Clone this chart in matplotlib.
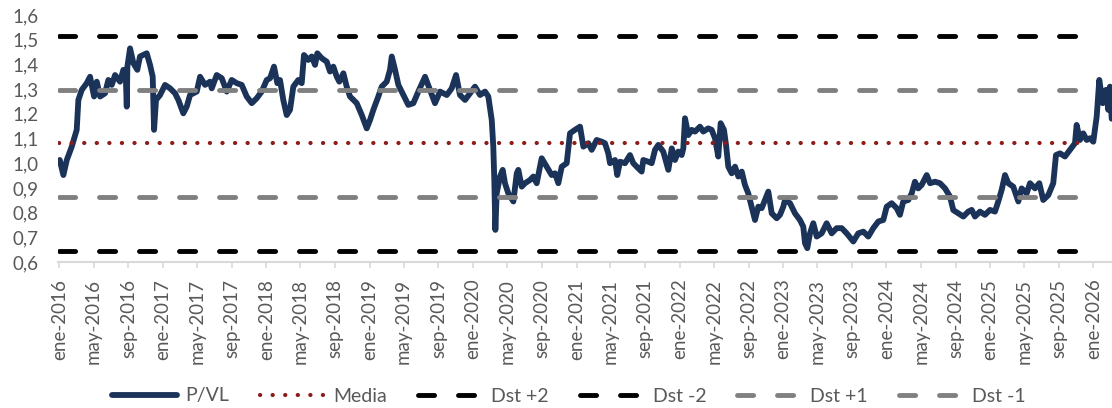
import matplotlib
matplotlib.use("Agg")
import matplotlib.pyplot as plt
import pandas as pd

# ---------------- data ----------------
# time as decimal years, P/VL ratio
pvl_years = [
    2016.004, 2016.039, 2016.072, 2016.120, 2016.168, 2016.184, 2016.217, 2016.265, 2016.297, 2016.336,
    2016.362, 2016.394, 2016.442, 2016.474, 2016.507, 2016.539, 2016.587, 2016.619, 2016.642, 2016.652,
    2016.658, 2016.684, 2016.716, 2016.754, 2016.780, 2016.845, 2016.877, 2016.903, 2016.916, 2016.935,
    2016.974, 2017.022, 2017.071, 2017.119, 2017.151, 2017.199, 2017.232, 2017.264, 2017.329, 2017.361,
    2017.409, 2017.457, 2017.474, 2017.522, 2017.571, 2017.619, 2017.667, 2017.716, 2017.764, 2017.812,
    2017.861, 2017.909, 2017.957, 2018.006, 2018.038, 2018.076, 2018.108, 2018.134, 2018.166, 2018.199,
    2018.231, 2018.263, 2018.311, 2018.344, 2018.366, 2018.408, 2018.441, 2018.473, 2018.495, 2018.538,
    2018.586, 2018.618, 2018.650, 2018.683, 2018.708, 2018.747, 2018.779, 2018.811, 2018.876, 2018.925,
    2018.973, 2019.005, 2019.037, 2019.085, 2019.118, 2019.166, 2019.198, 2019.215, 2019.247, 2019.279,
    2019.327, 2019.375, 2019.424, 2019.472, 2019.537, 2019.585, 2019.633, 2019.682, 2019.747, 2019.795,
    2019.837, 2019.875, 2019.924, 2019.972, 2020.020, 2020.069, 2020.117, 2020.149, 2020.182, 2020.197,
    2020.207, 2020.217, 2020.230, 2020.262, 2020.288, 2020.310, 2020.342, 2020.391, 2020.424, 2020.439,
    2020.472, 2020.504, 2020.552, 2020.584, 2020.617, 2020.665, 2020.714, 2020.762, 2020.794, 2020.826,
    2020.859, 2020.907, 2020.939, 2020.987, 2021.036, 2021.068, 2021.116, 2021.149, 2021.197, 2021.246,
    2021.277, 2021.309, 2021.326, 2021.374, 2021.396, 2021.423, 2021.471, 2021.519, 2021.551, 2021.600,
    2021.632, 2021.648, 2021.696, 2021.729, 2021.761, 2021.793, 2021.841, 2021.890, 2021.923, 2021.954,
    2021.986, 2022.019, 2022.035, 2022.051, 2022.083, 2022.116, 2022.148, 2022.196, 2022.228, 2022.276,
    2022.309, 2022.341, 2022.373, 2022.396, 2022.428, 2022.448, 2022.470, 2022.503, 2022.535, 2022.567,
    2022.600, 2022.631, 2022.663, 2022.696, 2022.728, 2022.760, 2022.793, 2022.825, 2022.857, 2022.890,
    2022.938, 2022.970, 2023.002, 2023.018, 2023.067, 2023.115, 2023.163, 2023.195, 2023.212, 2023.234,
    2023.260, 2023.292, 2023.325, 2023.373, 2023.421, 2023.470, 2023.518, 2023.567, 2023.615, 2023.679,
    2023.727, 2023.776, 2023.824, 2023.872, 2023.921, 2023.969, 2024.002, 2024.050, 2024.098, 2024.130,
    2024.162, 2024.211, 2024.244, 2024.275, 2024.307, 2024.340, 2024.389, 2024.421, 2024.469, 2024.517,
    2024.566, 2024.614, 2024.646, 2024.694, 2024.743, 2024.791, 2024.824, 2024.856, 2024.904, 2024.952,
    2025.001, 2025.049, 2025.081, 2025.114, 2025.146, 2025.178, 2025.226, 2025.275, 2025.307, 2025.356,
    2025.388, 2025.436, 2025.478, 2025.516, 2025.565, 2025.613, 2025.639, 2025.678, 2025.726, 2025.774,
    2025.823, 2025.839, 2025.871, 2025.903, 2025.936, 2025.968, 2026.000, 2026.033, 2026.058, 2026.091,
    2026.123, 2026.145, 2026.161, 2026.178,
]
pvl_values = [
    1.013, 0.952, 1.013, 1.067, 1.135, 1.256, 1.297, 1.324, 1.350, 1.270,
    1.330, 1.270, 1.283, 1.337, 1.317, 1.357, 1.330, 1.378, 1.360, 1.229,
    1.391, 1.465, 1.405, 1.378, 1.432, 1.445, 1.398, 1.350, 1.135, 1.256,
    1.276, 1.317, 1.303, 1.283, 1.256, 1.202, 1.229, 1.276, 1.290, 1.350,
    1.317, 1.330, 1.303, 1.357, 1.344, 1.290, 1.337, 1.324, 1.317, 1.270,
    1.243, 1.263, 1.290, 1.337, 1.344, 1.391, 1.324, 1.337, 1.256, 1.195,
    1.216, 1.310, 1.337, 1.324, 1.438, 1.418, 1.432, 1.398, 1.445, 1.425,
    1.411, 1.371, 1.391, 1.350, 1.330, 1.364, 1.310, 1.270, 1.243, 1.195,
    1.141, 1.175, 1.216, 1.270, 1.310, 1.330, 1.378, 1.432, 1.378, 1.317,
    1.276, 1.236, 1.243, 1.290, 1.350, 1.297, 1.243, 1.290, 1.276, 1.303,
    1.357, 1.276, 1.256, 1.283, 1.310, 1.276, 1.290, 1.270, 1.175, 1.067,
    0.932, 0.730, 0.878, 0.946, 0.973, 0.919, 0.878, 0.845, 0.959, 0.973,
    0.905, 0.919, 0.932, 0.946, 0.919, 1.020, 0.986, 0.952, 0.959, 0.919,
    0.986, 1.000, 1.121, 1.135, 1.148, 1.067, 1.081, 1.054, 1.094, 1.087,
    1.081, 1.040, 1.000, 1.013, 0.952, 1.006, 1.000, 1.033, 1.000, 0.979,
    0.966, 1.013, 1.006, 1.000, 1.054, 1.074, 1.047, 0.973, 1.060, 1.013,
    1.047, 1.033, 1.060, 1.182, 1.114, 1.135, 1.128, 1.148, 1.128, 1.141,
    1.135, 1.101, 1.027, 1.162, 1.135, 1.074, 0.986, 0.959, 0.986, 0.946,
    0.966, 0.912, 0.878, 0.824, 0.770, 0.824, 0.818, 0.851, 0.885, 0.797,
    0.777, 0.791, 0.824, 0.851, 0.838, 0.797, 0.770, 0.743, 0.676, 0.656,
    0.716, 0.757, 0.703, 0.716, 0.757, 0.716, 0.737, 0.737, 0.716, 0.683,
    0.716, 0.723, 0.703, 0.737, 0.764, 0.770, 0.824, 0.838, 0.818, 0.791,
    0.845, 0.851, 0.878, 0.925, 0.898, 0.912, 0.952, 0.919, 0.925, 0.919,
    0.898, 0.865, 0.810, 0.797, 0.784, 0.804, 0.811, 0.784, 0.804, 0.791,
    0.811, 0.804, 0.845, 0.892, 0.952, 0.919, 0.905, 0.845, 0.898, 0.878,
    0.919, 0.898, 0.919, 0.851, 0.871, 0.919, 1.033, 1.040, 1.027, 1.054,
    1.081, 1.155, 1.094, 1.121, 1.094, 1.101, 1.087, 1.189, 1.337, 1.243,
    1.297, 1.216, 1.310, 1.180,
]

# reference levels (constant series)
media_val = 1.080
dst_p2_val = 1.515
dst_m2_val = 0.645
dst_p1_val = 1.297
dst_m1_val = 0.863
ref_years = [2016.000, 2025.930]

series_labels = ["P/VL", "Media", "Dst +2", "Dst -2", "Dst +1", "Dst -1"]
month_abbr = {1: "ene", 5: "may", 9: "sep"}
y_ticks = [0.6, 0.7, 0.8, 0.9, 1.0, 1.1, 1.2, 1.3, 1.4, 1.5, 1.6]
x_axis_years = [2015.987, 2026.181]

# ---------------- helpers ----------------
base = pd.Timestamp("2016-01-01")
def to_dates(years):
    return [base + pd.Timedelta(days=(y - 2016.0) * 365.25) for y in years]

pvl_dates = to_dates(pvl_years)
ref_dates = to_dates(ref_years)

# ---------------- figure ----------------
plt.rcParams["font.family"] = ["Lato", "DejaVu Sans"]
W, H = 1112, 408
fig = plt.figure(figsize=(W / 100, H / 100), dpi=100)
ax = fig.add_axes([58 / W, (H - 262) / H, (W - 58) / W, (262 - 15) / H])

navy = "#1B3358"
dark_red = "#8E1B1B"
gray = "#808080"
txt = "#595959"

ax.plot(pvl_dates, pvl_values, color=navy, lw=4.2, solid_joinstyle="round",
        solid_capstyle="round", label=series_labels[0], zorder=2)

lw_d = 3.5
dash = (11.6 / lw_d, 17.2 / lw_d)
lw_m = 3.0
dots = (0.05, 8.9 / lw_m)

l_media, = ax.plot(ref_dates, [media_val, media_val], color=dark_red, lw=lw_m,
                   dash_capstyle="round", label=series_labels[1], zorder=3)
l_media.set_dashes(dots)
l_p2, = ax.plot(ref_dates, [dst_p2_val, dst_p2_val], color="black", lw=lw_d,
                dash_capstyle="round", label=series_labels[2], zorder=3)
l_p2.set_dashes(dash)
l_m2, = ax.plot(ref_dates, [dst_m2_val, dst_m2_val], color="black", lw=lw_d,
                dash_capstyle="round", label=series_labels[3], zorder=3)
l_m2.set_dashes(dash)
l_p1, = ax.plot(ref_dates, [dst_p1_val, dst_p1_val], color=gray, lw=lw_d,
                dash_capstyle="round", label=series_labels[4], zorder=3)
l_p1.set_dashes(dash)
l_m1, = ax.plot(ref_dates, [dst_m1_val, dst_m1_val], color=gray, lw=lw_d,
                dash_capstyle="round", label=series_labels[5], zorder=3)
l_m1.set_dashes(dash)

# axes limits
xl = to_dates(x_axis_years)
ax.set_xlim(xl[0], xl[1])
ax.set_ylim(0.6, 1.6)

# y ticks with comma decimals
ax.set_yticks(y_ticks)
ax.set_yticklabels([f"{v:.1f}".replace(".", ",") for v in y_ticks])
ax.tick_params(axis="y", length=0, pad=14, labelsize=13.5, labelcolor=txt)

# x ticks every 4 months
xt = pd.date_range("2016-01-01", "2026-01-01", freq="4MS")
ax.set_xticks(list(xt))
ax.set_xticklabels([f"{month_abbr[d.month]}-{d.year}" for d in xt], rotation=90)
ax.tick_params(axis="x", length=4, width=1.2, color="#D9D9D9", pad=8,
               labelsize=13.5, labelcolor=txt, direction="out")

for s in ["left", "right", "top"]:
    ax.spines[s].set_visible(False)
ax.spines["bottom"].set_color("#D9D9D9")
ax.spines["bottom"].set_linewidth(1.5)
ax.grid(False)

handles = [ax.lines[i] for i in range(6)]
fig.legend(handles, series_labels, loc="center", bbox_to_anchor=(569 / W, 12 / H),
           ncol=6, frameon=False, fontsize=14, labelcolor=txt,
           handlelength=3.3, handletextpad=0.45, columnspacing=1.6,
           borderpad=0.0)

fig.savefig("out.png", dpi=100)
